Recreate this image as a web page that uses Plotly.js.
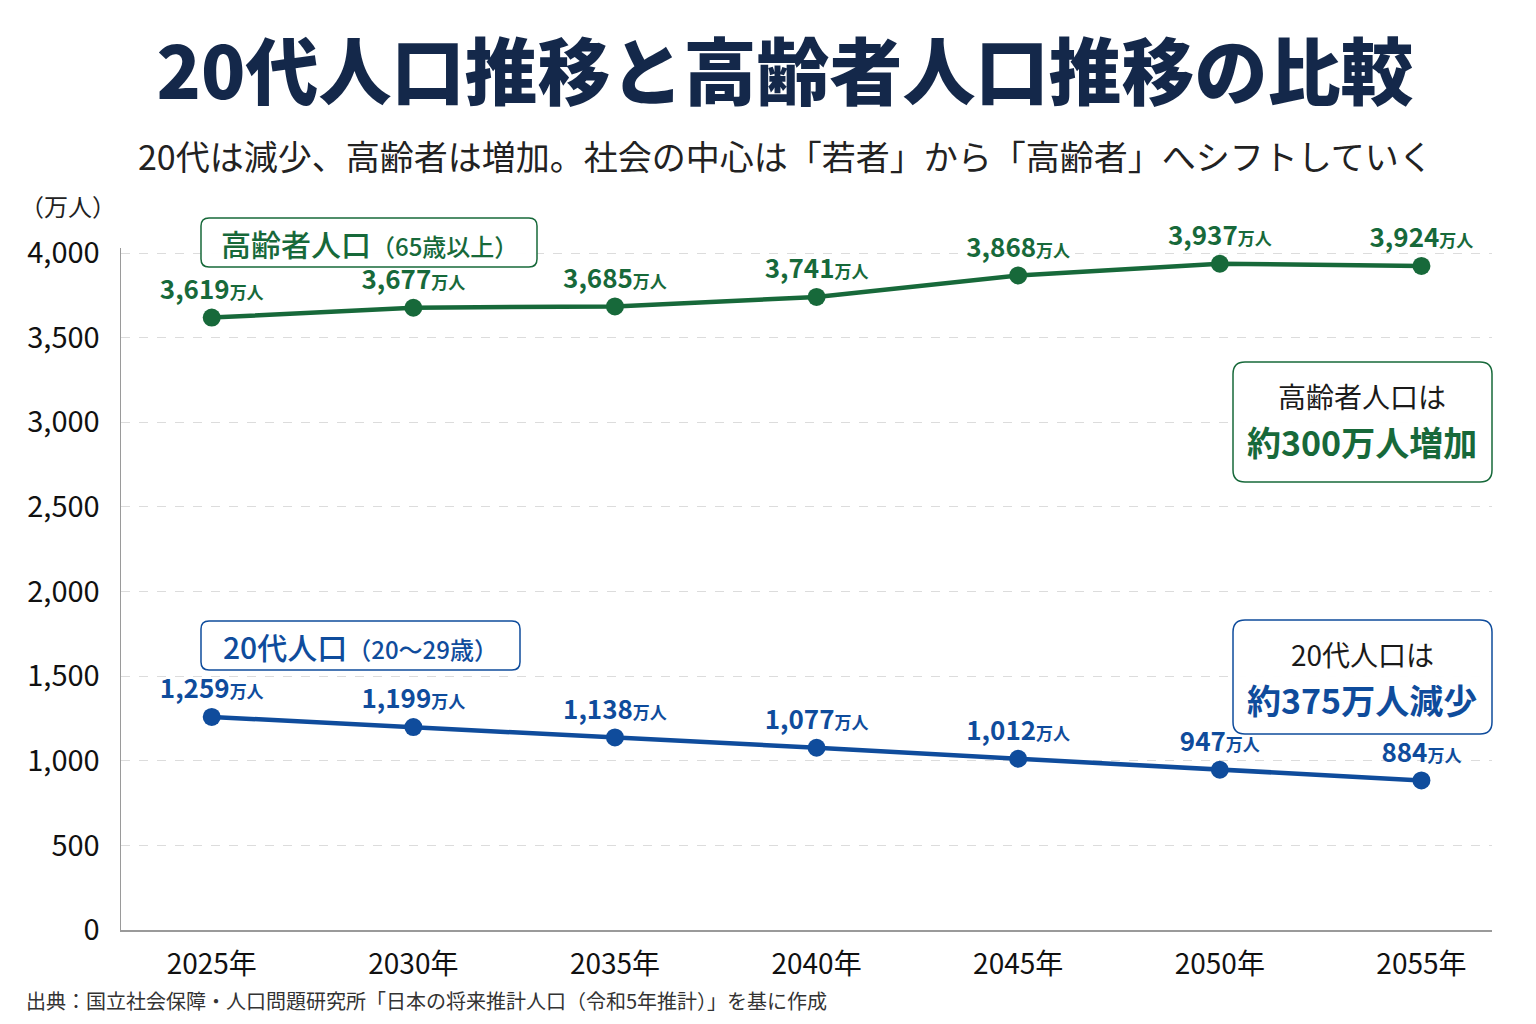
<!DOCTYPE html>
<html lang="ja">
<head>
<meta charset="utf-8">
<script src="https://cdn.plot.ly/plotly-3.0.1.min.js"></script>
<style>
  html, body { margin: 0; padding: 0; background: #ffffff; }
  #chart { width: 1536px; height: 1024px; }
</style>
</head>
<body>
<div id="chart"></div>
<script>
// 年次（横軸カテゴリ）
const years = ['2025年', '2030年', '2035年', '2040年', '2045年', '2050年', '2055年'];
// 高齢者人口（65歳以上）, 万人
const elderly = [3619, 3677, 3685, 3741, 3868, 3937, 3924];
// 20代人口（20〜29歳）, 万人
const twenties = [1259, 1199, 1138, 1077, 1012, 947, 884];
// 縦軸目盛
const yTicks = [0, 500, 1000, 1500, 2000, 2500, 3000, 3500, 4000];

const GREEN = '#17693a';
const BLUE = '#0f4c9c';
const FONT = '"Noto Sans CJK JP", "Noto Sans", sans-serif';

// plot area in page pixels
const PL = 121, PR = 1492, PT = 248, PB = 930;
const W = PR - PL, H = PB - PT;
const px = x => (x - PL) / W;
const py = y => (PB - y) / H;

// rounded rectangle path (page pixels -> paper coords)
function roundRect(x0, y0, x1, y1, r) {
  const P = (x, y) => px(x).toFixed(5) + ',' + py(y).toFixed(5);
  return 'M' + P(x0 + r, y0) +
    ' L' + P(x1 - r, y0) + ' Q' + P(x1, y0) + ' ' + P(x1, y0 + r) +
    ' L' + P(x1, y1 - r) + ' Q' + P(x1, y1) + ' ' + P(x1 - r, y1) +
    ' L' + P(x0 + r, y1) + ' Q' + P(x0, y1) + ' ' + P(x0, y1 - r) +
    ' L' + P(x0, y0 + r) + ' Q' + P(x0, y0) + ' ' + P(x0 + r, y0) + ' Z';
}

function boxShape(x0, y0, x1, y1, r, color) {
  return {
    type: 'path', xref: 'paper', yref: 'paper',
    path: roundRect(x0, y0, x1, y1, r),
    line: { color: color, width: 1.5 },
    fillcolor: 'rgba(255,255,255,0.97)',
    layer: 'above'
  };
}

function note(text, x, y, size, color, extra) {
  return Object.assign({
    text: text, xref: 'paper', yref: 'paper', x: px(x), y: py(y),
    xanchor: 'center', yanchor: 'middle', showarrow: false,
    font: { family: FONT, size: size, color: color }
  }, extra || {});
}

const labelTpl = '<b>%{y:,}</b><span style="font-size:17px"><b>万人</b></span>';

const traces = [
  {
    x: years, y: elderly, type: 'scatter', mode: 'lines+markers+text',
    line: { color: GREEN, width: 4.5 },
    marker: { color: GREEN, size: 18 },
    texttemplate: labelTpl, textposition: 'top center',
    textfont: { family: FONT, size: 26, color: GREEN },
    cliponaxis: false, hoverinfo: 'skip', showlegend: false
  },
  {
    x: years, y: twenties, type: 'scatter', mode: 'lines+markers+text',
    line: { color: BLUE, width: 4.5 },
    marker: { color: BLUE, size: 18 },
    texttemplate: labelTpl, textposition: 'top center',
    textfont: { family: FONT, size: 26, color: BLUE },
    cliponaxis: false, hoverinfo: 'skip', showlegend: false
  }
];

const layout = {
  width: 1536, height: 1024,
  paper_bgcolor: '#ffffff', plot_bgcolor: '#ffffff',
  margin: { l: PL, r: 1536 - PR, t: PT, b: 1024 - PB, pad: 0 },
  font: { family: FONT, color: '#222222' },
  title: {
    text: '20代人口推移と高齢者人口推移の比較',
    font: { family: FONT, size: 73, color: '#14284a', weight: 900 },
    x: 785 / 1536, xanchor: 'center', xref: 'container',
    y: 1 - 73 / 1024, yanchor: 'middle', yref: 'container'
  },
  xaxis: {
    type: 'category', range: [-0.45, 6.35],
    showgrid: false, zeroline: false,
    showline: true, linecolor: '#9a9a9a', linewidth: 1.5,
    ticks: '', ticklabelstandoff: 9,
    tickfont: { family: FONT, size: 28, color: '#111111' }
  },
  yaxis: {
    range: [0, 4030], tickvals: yTicks, tickformat: ',d',
    showgrid: true, gridcolor: '#dcdcdc', griddash: 'dash', gridwidth: 1,
    zeroline: false,
    showline: true, linecolor: '#9a9a9a', linewidth: 1.5,
    ticks: '', ticklabelstandoff: 14,
    tickfont: { family: FONT, size: 29, color: '#111111' }
  },
  shapes: [
    boxShape(201, 218, 537, 267, 8, GREEN),
    boxShape(201, 621, 520, 670, 8, BLUE),
    boxShape(1233, 362, 1492, 482, 12, GREEN),
    boxShape(1233, 620, 1492, 734, 12, BLUE)
  ],
  annotations: [
    note('20代は減少、高齢者は増加。社会の中心は「若者」から「高齢者」へシフトしていく',
      785, 156, 34, '#222222'),
    note('（万人）', 18, 205, 24, '#222222', { xanchor: 'left' }),
    note('高齢者人口<span style="font-size:24px">（65歳以上）</span>',
      369, 243, 30, GREEN, { font: { family: FONT, size: 30, color: GREEN, weight: 500 } }),
    note('20代人口<span style="font-size:24px">（20〜29歳）</span>',
      360, 646, 30, BLUE, { font: { family: FONT, size: 30, color: BLUE, weight: 500 } }),
    note('高齢者人口は', 1362, 396, 28, '#1a1a1a'),
    note('<b>約300万人増加</b>', 1362, 441, 34, GREEN),
    note('20代人口は', 1362, 654, 28, '#1a1a1a'),
    note('<b>約375万人減少</b>', 1362, 699, 34, BLUE),
    note('出典：国立社会保障・人口問題研究所「日本の将来推計人口（令和5年推計）」を基に作成',
      24, 1001, 20, '#333333', { xanchor: 'left' })
  ]
};

Plotly.newPlot('chart', traces, layout, { staticPlot: true, displayModeBar: false });
</script>
</body>
</html>
